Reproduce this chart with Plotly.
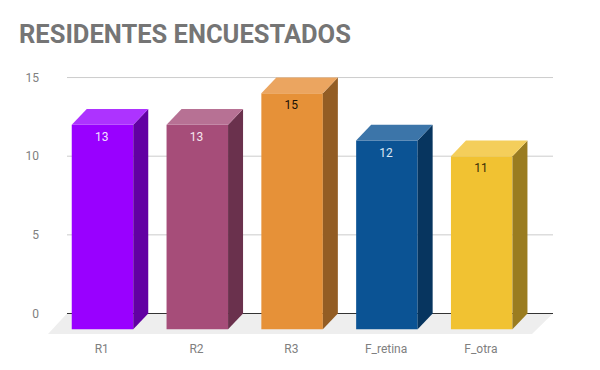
import plotly.graph_objects as go

categories = ["R1", "R2", "R3", "F_retina", "F_otra"]
values = [13, 13, 15, 12, 11]
value_labels = ["13", "13", "15", "12", "11"]
y_ticks = [0, 5, 10, 15]

front_colors = ["#9900ff", "#a64d79", "#e69138", "#0b5394", "#f1c232"]
side_colors = ["#6200a3", "#6a314d", "#935d24", "#07355f", "#9a7c20"]
top_colors = ["#ad33ff", "#b77194", "#eba560", "#3c75a9", "#f4ce5b"]
label_colors = ["#f3e0ff", "#f6e6ee", "#1a1206", "#dbe8f5", "#3a2d06"]

GREY = "#808080"
W, H = 600, 370
PAGE = 8                          # page margin around the figure
L, R, T, B = 40, 568, 60, 340     # plot area in window pixels
X0, XS = 102.5, 94.8              # pixel of the first bar, pixels per category
Y0, YS = 313.5, 15.73             # pixel of value 0, pixels per unit

BAR_W = 61.5 / XS
DX = 15.0 / XS
DY = 1.0
LABEL_NUDGE = -0.8 / XS
x_of = lambda px: (px - X0) / XS
back_l, back_r = x_of(67), x_of(553)
floor_l, floor_r = x_of(48), x_of(532)
floor_y = -1.3

fig = go.Figure()

# Front faces
fig.add_trace(go.Bar(
    x=list(range(len(values))),
    y=[v for v in values],
    base=-DY,
    width=BAR_W,
    marker=dict(color=front_colors, line=dict(width=0)),
    hoverinfo="skip",
    showlegend=False,
))

# Side and top faces derived from each value
for i, v in enumerate(values):
    xl, xr = i - BAR_W / 2, i + BAR_W / 2
    fig.add_trace(go.Scatter(
        x=[xr, xr + DX, xr + DX, xr, xr],
        y=[-DY, 0, v, v - DY, -DY],
        mode="lines", fill="toself", fillcolor=side_colors[i],
        line=dict(width=0), hoverinfo="skip", showlegend=False,
    ))
    fig.add_trace(go.Scatter(
        x=[xl, xl + DX, xr + DX, xr, xl],
        y=[v - DY, v, v, v - DY, v - DY],
        mode="lines", fill="toself", fillcolor=top_colors[i],
        line=dict(width=0), hoverinfo="skip", showlegend=False,
    ))

# Value labels
fig.add_trace(go.Scatter(
    x=[i + LABEL_NUDGE for i in range(len(values))],
    y=[v - DY - 0.83 for v in values],
    mode="text", text=value_labels,
    textposition="middle center",
    textfont=dict(family="Roboto", size=12, color=label_colors),
    hoverinfo="skip", showlegend=False,
))

shapes = [dict(
    type="path", layer="below", xref="x", yref="y",
    path=f"M {floor_l} {floor_y} L {back_l} 0 L {back_r} 0 L {floor_r} {floor_y} Z",
    fillcolor="#eeeeee", line=dict(width=0),
)]
for t in y_ticks:
    shapes.append(dict(
        type="line", layer="below", xref="x", yref="y",
        x0=back_l, x1=back_r, y0=t, y1=t,
        line=dict(color="#333333" if t == 0 else "#cccccc", width=1),
    ))

fig.update_layout(
    width=W, height=H,
    margin=dict(l=L - PAGE, r=W - (R - PAGE), t=T - PAGE, b=H - (B - PAGE), pad=0),
    paper_bgcolor="white", plot_bgcolor="white",
    shapes=shapes,
    showlegend=False,
    title=dict(
        text="<b>RESIDENTES ENCUESTADOS</b>",
        x=(19 - PAGE) / W, xanchor="left",
        y=1 - (34 - PAGE) / H, yanchor="middle",
        font=dict(family="Roboto", size=25.5, color="#757575"),
    ),
    xaxis=dict(
        range=[x_of(L), x_of(R)],
        tickmode="array",
        tickvals=[i + LABEL_NUDGE for i in range(len(categories))],
        ticktext=categories,
        showgrid=False, zeroline=False, showline=False, ticks="",
        tickfont=dict(family="Roboto", size=12, color=GREY),
        ticklabelstandoff=0,
    ),
    yaxis=dict(
        range=[(Y0 - B) / YS, (Y0 - T) / YS],
        tickmode="array", tickvals=y_ticks, ticktext=[str(t) for t in y_ticks],
        showgrid=False, zeroline=False, showline=False, ticks="",
        tickfont=dict(family="Roboto", size=12, color=GREY),
    ),
)

fig.write_html("out.html", config={"displayModeBar": False})
